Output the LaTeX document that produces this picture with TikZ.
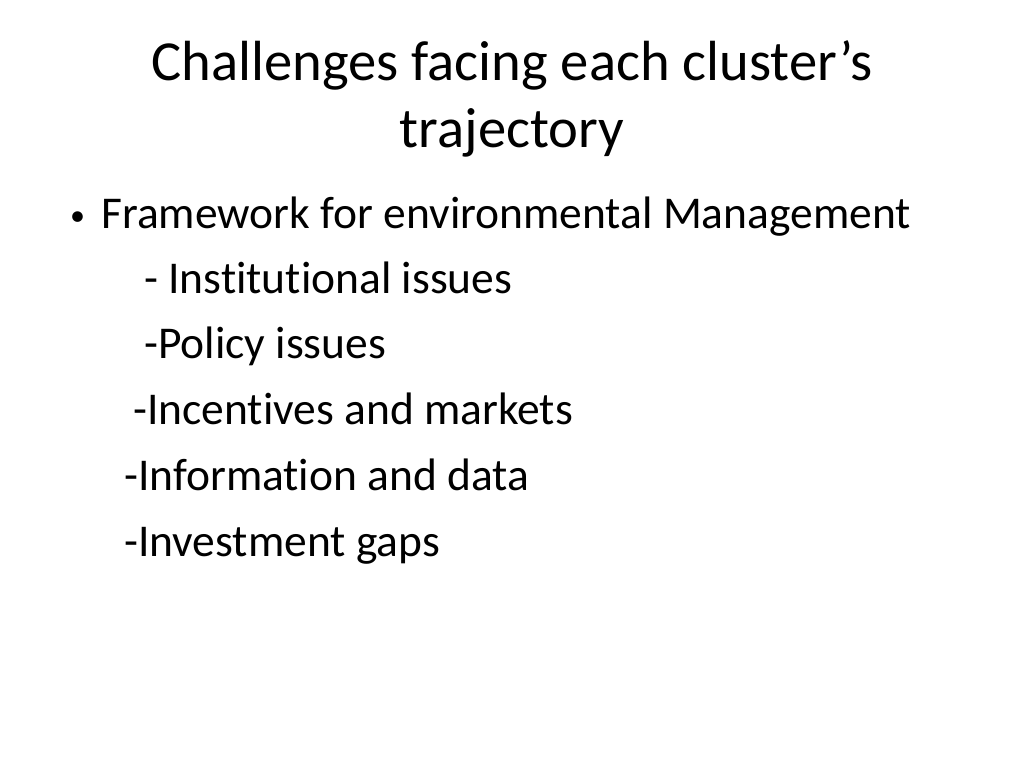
\documentclass[tikz,border=0pt]{standalone}
\usepackage{fontspec}
\setmainfont{Carlito}[RawFeature=-liga]
\begin{document}
\begin{tikzpicture}[x=1pt,y=-1pt,
  title/.style={anchor=base,inner sep=0pt,font=\fontsize{56.6}{60}\selectfont},
  body/.style={anchor=base west,inner sep=0pt,font=\fontsize{45.5}{50}\selectfont}]
\useasboundingbox[fill=white] (0,0) rectangle (1024,768);
\node[title] (t1) at (512,80) {Challenges facing each cluster’s};
\node[title] (t2) at (512,147) {trajectory};
\node[anchor=base west,inner sep=0pt,font=\fontsize{30}{34}\selectfont] (b0) at (70,225) {•};
\node[body] (b1) at (101,228) {Framework for environmental Management};
\node[body] (b2) at (144,293) {- Institutional issues};
\node[body] (b3) at (144,358) {-Policy issues};
\node[body] (b4) at (133,424) {-Incentives and markets};
\node[body] (b5) at (124,490) {-Information and data};
\node[body] (b6) at (124,556) {-Investment gaps};
\end{tikzpicture}
\end{document}
